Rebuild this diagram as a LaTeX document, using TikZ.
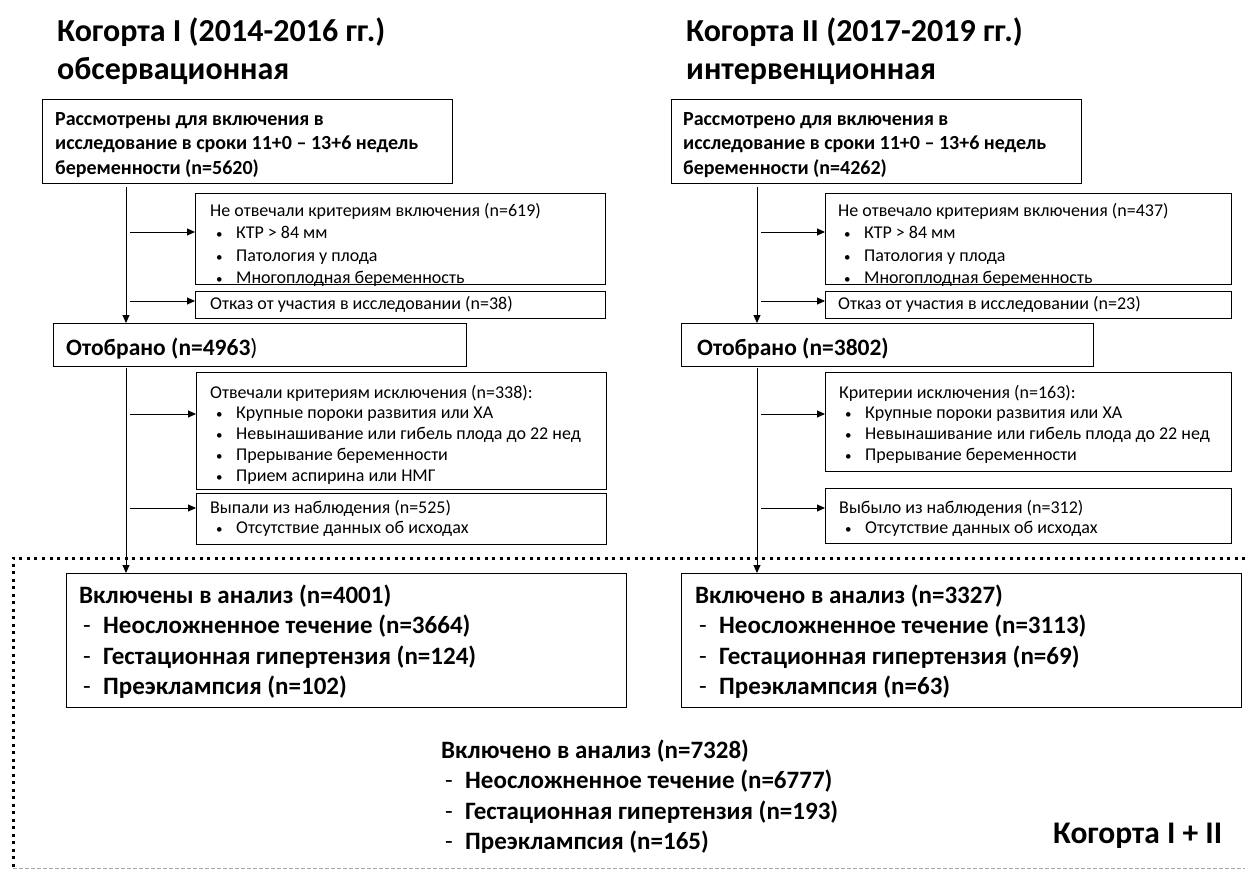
\documentclass[tikz,border=0pt]{standalone}
\usepackage{fontspec}
\setmainfont{Carlito}
\usetikzlibrary{arrows.meta}
\newcommand\fsz[2]{\fontsize{#1}{#2}\selectfont}
\newcommand\lns[1]{\begin{tabular}[t]{@{}l@{}}#1\end{tabular}}
\newcommand\bul{\makebox[26pt][l]{\hspace{6pt}{\fontsize{13}{13}\selectfont •}}}
\newcommand\dsh{\makebox[24pt][l]{\hspace{4pt}\mdseries -}}
\begin{document}
\begin{tikzpicture}[x=1pt,y=-1pt,
  box/.style={draw, line width=1.3pt, inner sep=0pt, anchor=north west},
  txt/.style={inner sep=0pt, anchor=base west},
  ttl/.style={txt, font=\fsz{32}{38}\bfseries},
  boldtxt/.style={txt, font=\fsz{20}{24.5}\bfseries},
  regtxt/.style={txt, font=\fsz{18}{22.5}},
  regtxtb/.style={txt, font=\fsz{18}{20.8}},
  seltxt/.style={txt, font=\fsz{23.5}{30}\bfseries},
  restxt/.style={txt, font=\fsz{25}{30.5}\bfseries},
  conn/.style={line width=0.9pt},
  arr/.style={line width=0.9pt, -{Triangle[length=8pt,width=7pt]}},
  dotframe/.style={line width=3pt, dash pattern=on 3pt off 4.5pt},
  grayframe/.style={line width=0.9pt, black!35, dash pattern=on 3.5pt off 2.5pt}]
\useasboundingbox (0,0) rectangle (1245,870);

% titles
\node[ttl] (tL) at (57,41) {\lns{Когорта I (2014-2016 гг.)\\обсервационная}};
\node[ttl] (tR) at (686,41) {\lns{Когорта II (2017-2019 гг.)\\интервенционная}};

% ---------- left column ----------
\node[box, minimum width=410pt, minimum height=84pt] (b1L) at (42,99) {};
\node[boldtxt] (b1Lt) at (55,125) {\lns{Рассмотрены для включения в\\исследование в сроки 11+0 – 13+6 недель\\беременности (n=5620)}};

\node[box, minimum width=410pt, minimum height=91pt] (e1La) at (195,193) {};
\node[regtxt] (e1Lat) at (210,216) {\lns{Не отвечали критериям включения (n=619)\\\bul КТР > 84 мм\\\bul Патология у плода\\\bul Многоплодная беременность}};
\node[box, minimum width=410pt, minimum height=27pt] (e1Lb) at (195,291) {};
\node[regtxt] (e1Lbt) at (210,309) {Отказ от участия в исследовании (n=38)};

\node[box, minimum width=413pt, minimum height=43pt] (oL) at (53,323) {};
\node[seltxt] (oLt) at (66,355) {Отобрано (n=4963{\mdseries )}};

\node[box, minimum width=410pt, minimum height=117pt] (e2La) at (196,372) {};
\node[regtxtb] (e2Lat) at (210,398) {\lns{Отвечали критериям исключения (n=338):\\\bul Крупные пороки развития или ХА\\\bul Невынашивание или гибель плода до 22 нед\\\bul Прерывание беременности\\\bul Прием аспирина или НМГ}};
\node[box, minimum width=410pt, minimum height=51pt] (e2Lb) at (196,493) {};
\node[regtxtb] (e2Lbt) at (210,513) {\lns{Выпали из наблюдения (n=525)\\\bul Отсутствие данных об исходах}};

\node[box, minimum width=560pt, minimum height=134pt] (rL) at (66,573) {};
\node[restxt] (rLt) at (79,603) {\lns{Включены в анализ (n=4001)\\\dsh Неосложненное течение (n=3664)\\\dsh Гестационная гипертензия (n=124)\\\dsh Преэклампсия (n=102)}};

% ---------- right column ----------
\node[box, minimum width=410pt, minimum height=84pt] (b1R) at (671,99) {};
\node[boldtxt] (b1Rt) at (683,125) {\lns{Рассмотрено для включения в\\исследование в сроки 11+0 – 13+6 недель\\беременности (n=4262)}};

\node[box, minimum width=406pt, minimum height=91pt] (e1Ra) at (825,193) {};
\node[regtxt] (e1Rat) at (838,216) {\lns{Не отвечало критериям включения (n=437)\\\bul КТР > 84 мм\\\bul Патология у плода\\\bul Многоплодная беременность}};
\node[box, minimum width=406pt, minimum height=27pt] (e1Rb) at (825,291) {};
\node[regtxt] (e1Rbt) at (838,309) {Отказ от участия в исследовании (n=23)};

\node[box, minimum width=412pt, minimum height=43pt] (oR) at (681,323) {};
\node[seltxt] (oRt) at (697,355) {Отобрано (n=3802)};

\node[box, minimum width=406pt, minimum height=99pt] (e2R) at (825,372) {};
\node[regtxtb] (e2Rt) at (839,398) {\lns{Критерии исключения (n=163):\\\bul Крупные пороки развития или ХА\\\bul Невынашивание или гибель плода до 22 нед\\\bul Прерывание беременности}};
\node[box, minimum width=406pt, minimum height=55pt] (e3R) at (825,488) {};
\node[regtxtb] (e3Rt) at (839,513) {\lns{Выбыло из наблюдения (n=312)\\\bul Отсутствие данных об исходах}};

\node[box, minimum width=560pt, minimum height=134pt] (rR) at (681,573) {};
\node[restxt] (rRt) at (695,603) {\lns{Включено в анализ (n=3327)\\\dsh Неосложненное течение (n=3113)\\\dsh Гестационная гипертензия (n=69)\\\dsh Преэклампсия (n=63)}};

% ---------- combined ----------
\node[restxt] (tot) at (441,758) {\lns{Включено в анализ (n=7328)\\\dsh Неосложненное течение (n=6777)\\\dsh Гестационная гипертензия (n=193)\\\dsh Преэклампсия (n=165)}};
\node[txt, font=\fsz{31.5}{36}\bfseries] (kI) at (1053,843) {Когорта I + II};

% frame
\draw[dotframe] (1245,558) -- (13,558) -- (13,868);
\draw[grayframe] (13,868) -- (1245,868);

% ---------- connectors ----------
\coordinate (vL) at (126,0);
\coordinate (vR) at (757,0);
\coordinate (y1) at (0,232);
\coordinate (y2) at (0,301);
\coordinate (y3) at (0,414);
\coordinate (y4) at (0,508);

\draw[arr, shorten <=3pt] (b1L.south -| vL) -- (oL.north -| vL);
\draw[arr, shorten <=1pt] (oL.south -| vL) -- (rL.north -| vL);
\draw[arr] ([xshift=4pt]vL |- y1) -- (e1La.west |- y1);
\draw[arr] ([xshift=4pt]vL |- y2) -- (e1Lb.west |- y2);
\draw[arr] ([xshift=4pt]vL |- y3) -- (e2La.west |- y3);
\draw[arr] ([xshift=4pt]vL |- y4) -- (e2Lb.west |- y4);

\draw[arr, shorten <=3pt] (b1R.south -| vR) -- (oR.north -| vR);
\draw[arr, shorten <=1pt] (oR.south -| vR) -- (rR.north -| vR);
\draw[arr] ([xshift=4pt]vR |- y1) -- (e1Ra.west |- y1);
\draw[arr] ([xshift=4pt]vR |- y2) -- (e1Rb.west |- y2);
\draw[arr] ([xshift=4pt]vR |- y3) -- (e2R.west |- y3);
\draw[arr] ([xshift=4pt]vR |- y4) -- (e3R.west |- y4);
\end{tikzpicture}
\end{document}
